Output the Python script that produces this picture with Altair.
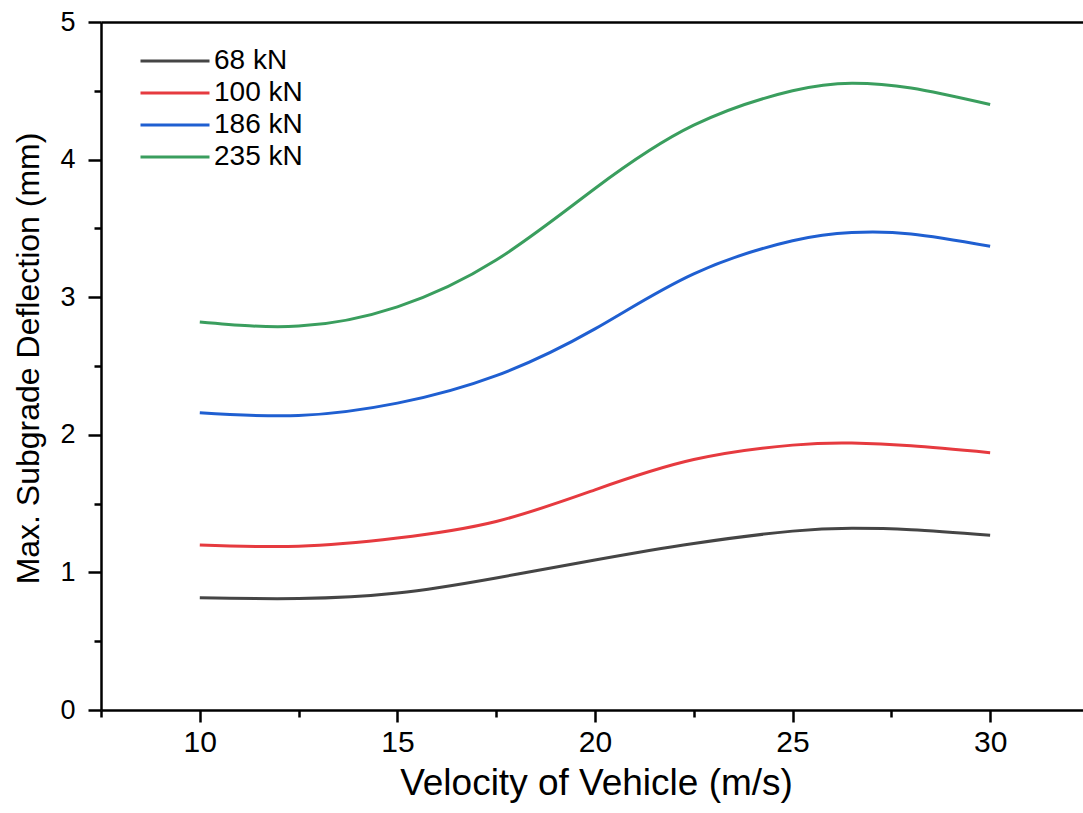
import altair as alt
import pandas as pd

# Vehicle speed (m/s) and maximum subgrade deflection (mm) for each axle load
velocity = [10, 12.5, 15, 17.5, 20, 22.5, 25, 26.5, 28, 30]
load_68 = [0.815, 0.81, 0.85, 0.96, 1.09, 1.21, 1.30, 1.32, 1.31, 1.27]
load_100 = [1.20, 1.19, 1.25, 1.37, 1.60, 1.82, 1.925, 1.94, 1.92, 1.87]
load_186 = [2.16, 2.14, 2.23, 2.43, 2.77, 3.17, 3.41, 3.47, 3.46, 3.37]
load_235 = [2.82, 2.79, 2.93, 3.27, 3.79, 4.25, 4.50, 4.555, 4.52, 4.40]

series_names = ["68 kN", "100 kN", "186 kN", "235 kN"]
series_colors = ["#454545", "#e63a3f", "#1f5fd1", "#3a9e5e"]

major_x = [10, 15, 20, 25, 30]
minor_x = [7.5, 12.5, 17.5, 22.5, 27.5]
major_y = [0, 1, 2, 3, 4, 5]
minor_y = [0.5, 1.5, 2.5, 3.5, 4.5]

rows = []
for name, vals in zip(series_names, [load_68, load_100, load_186, load_235]):
    for v, d in zip(velocity, vals):
        rows.append({"Velocity": v, "Deflection": d, "Load": name})
df = pd.DataFrame(rows)

FONT = "Liberation Sans"
x_scale = alt.Scale(domain=[7.5, 32.35], nice=False, zero=False)
y_scale = alt.Scale(domain=[0, 5], nice=False)

lines = alt.Chart(df).mark_line(interpolate="natural", strokeWidth=3).encode(
    x=alt.X("Velocity:Q", scale=x_scale, axis=alt.Axis(
        orient="bottom", values=major_x, format="d", title="Velocity of Vehicle (m/s)",
        grid=False, domainColor="black", domainWidth=2.5, tickColor="black",
        tickWidth=2.5, tickSize=12, labelFontSize=30, labelFont=FONT,
        labelColor="black", labelPadding=5, labelFlush=False,
        titleFont=FONT, titleFontSize=37,
        titleFontWeight="normal", titleColor="black", titlePadding=8,
        titleX=495)),
    y=alt.Y("Deflection:Q", scale=y_scale, axis=alt.Axis(
        orient="left", values=major_y, format="d", title="Max. Subgrade Deflection (mm)",
        grid=False, domainColor="black", domainWidth=2.5, tickColor="black",
        tickWidth=2.5, tickSize=13, labelFontSize=27, labelFont=FONT,
        labelColor="black", labelPadding=13, labelAlign="right",
        labelBaseline="middle", labelFlush=False,
        titleFont=FONT, titleFontSize=32,
        titleFontWeight="normal", titleColor="black", titlePadding=14,
        titleY=336)),
    color=alt.Color("Load:N", scale=alt.Scale(domain=series_names, range=series_colors),
                    sort=series_names,
                    legend=alt.Legend(
                        title=None, orient="none", legendX=37, legendY=25,
                        symbolType="M-1,0L5,0", symbolSize=529, symbolStrokeWidth=3,
                        labelOffset=48, labelFont=FONT, labelFontSize=28,
                        labelColor="black", rowPadding=4)),
)

minor = alt.Chart(df).mark_line(opacity=0).encode(
    x=alt.X("Velocity:Q", scale=x_scale, axis=alt.Axis(
        orient="bottom", values=minor_x, labels=False, title=None, grid=False,
        domain=False, tickColor="black", tickWidth=2.5, tickSize=7)),
    y=alt.Y("Deflection:Q", scale=y_scale, axis=alt.Axis(
        orient="left", values=minor_y, labels=False, title=None, grid=False,
        domain=False, tickColor="black", tickWidth=2.5, tickSize=7)),
)

frame_top = alt.Chart(df).mark_line(opacity=0).encode(
    x=alt.X("Velocity:Q", scale=x_scale, axis=alt.Axis(
        orient="top", labels=False, ticks=False, title=None, grid=False,
        domainColor="black", domainWidth=2.5)),
    y=alt.Y("Deflection:Q", scale=y_scale, axis=None),
)

chart = alt.layer(lines, minor, frame_top).resolve_axis(
    x="independent", y="independent"
).properties(
    width=982, height=688,
    padding={"left": 101, "top": 22, "right": 0, "bottom": 103},
    autosize=alt.AutoSizeParams(type="none"),
).configure_view(stroke=None)

chart.save("out.html", embed_options={"renderer": "svg", "actions": False})
